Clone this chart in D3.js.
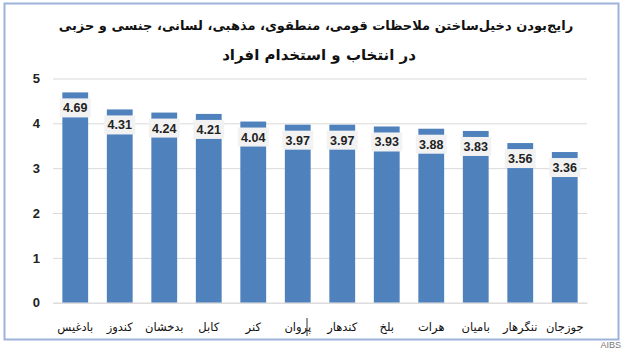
<!DOCTYPE html>
<html>
<head>
<meta charset="utf-8">
<script src="https://cdn.jsdelivr.net/npm/d3@7"></script>
<style>
  html, body { margin: 0; padding: 0; background: #fff; }
</style>
</head>
<body>
<div id="chart"></div>
<script>
// provinces, left to right as drawn
const provinces = ['بادغیس', 'کندوز', 'بدخشان', 'کابل', 'کنر', 'پروان', 'کندهار', 'بلخ', 'هرات', 'بامیان', 'ننگرهار', 'جوزجان']
const scores = [4.69, 4.31, 4.24, 4.21, 4.04, 3.97, 3.97, 3.93, 3.88, 3.83, 3.56, 3.36]
const yTicks = [0, 1, 2, 3, 4, 5]
const titleLines = ['رایج‌بودن دخیل‌ساختن ملاحظات قومی، منطقوی، مذهبی، لسانی، جنسی و حزبی', 'در انتخاب و استخدام افراد']

const data = provinces.map((p, i) => ({ name: p, value: scores[i] }))

const W = 624, H = 351
const margin = { top: 78.5, right: 37, bottom: 48.3, left: 53 }
const iw = W - margin.left - margin.right
const ih = H - margin.top - margin.bottom

const svg = d3.select('#chart').append('svg')
  .attr('width', W).attr('height', H)
  .style('display', 'block')

// outer frame
svg.append('rect')
  .attr('x', 4.5).attr('y', 3.5)
  .attr('width', 614).attr('height', 336)
  .attr('fill', '#fff')
  .attr('stroke', '#9db3dc').attr('stroke-width', 2)

// title: first line fitted to the width seen in the picture
svg.append('text')
  .attr('x', 316).attr('y', 30)
  .attr('text-anchor', 'middle')
  .attr('direction', 'rtl')
  .style('font-family', 'DejaVu Sans')
  .style('font-weight', 'bold')
  .style('font-size', '20px')
  .attr('fill', '#111')
  .text(titleLines[0])
  .each(function () {
    const w = this.getComputedTextLength()
    d3.select(this).style('font-size', (20 * 515 / w) + 'px')
  })

svg.append('text')
  .attr('x', 319).attr('y', 60)
  .attr('text-anchor', 'middle')
  .attr('direction', 'rtl')
  .style('font-family', 'DejaVu Sans')
  .style('font-weight', 'bold')
  .style('font-size', '15px')
  .attr('fill', '#111')
  .text(titleLines[1])

const g = svg.append('g').attr('transform', `translate(${margin.left},${margin.top})`)

const x = d3.scaleBand().domain(provinces).range([0, iw]).paddingInner(0.42).paddingOuter(0.21)
const y = d3.scaleLinear().domain([0, 5]).range([ih, 0])

// gridlines
g.append('g')
  .call(d3.axisLeft(y).tickValues(yTicks).tickSize(-iw).tickFormat(''))
  .call(a => a.select('.domain').remove())
  .call(a => a.selectAll('.tick line').attr('stroke', '#d9d9d9'))

// y labels
g.append('g')
  .call(d3.axisLeft(y).tickValues(yTicks).tickSize(0).tickPadding(13).tickFormat(d3.format('d')))
  .call(a => a.select('.domain').remove())
  .call(a => a.selectAll('.tick text')
    .style('font-family', 'Liberation Sans').style('font-weight', 'bold')
    .style('font-size', '13px').attr('fill', '#222'))

// bars
g.selectAll('.bar').data(data).enter().append('rect')
  .attr('class', 'bar')
  .attr('x', d => x(d.name))
  .attr('y', d => y(d.value))
  .attr('width', x.bandwidth())
  .attr('height', d => ih - y(d.value))
  .attr('fill', '#4f81bd')

// data labels with light boxes
const lab = g.selectAll('.lab').data(data).enter().append('g')
  .attr('class', 'lab')
  .attr('transform', d => `translate(${x(d.name) + x.bandwidth() / 2},${y(d.value) + 15.5})`)
lab.append('rect')
  .attr('x', -15.5).attr('y', -9.5).attr('width', 31).attr('height', 19)
  .attr('fill', '#f2f2f2')
lab.append('text')
  .attr('text-anchor', 'middle').attr('dy', '0.36em')
  .style('font-family', 'Liberation Sans').style('font-weight', 'bold')
  .style('font-size', '12.5px').attr('fill', '#222')
  .text(d => d.value.toFixed(2))

// x axis
const xa = g.append('g').attr('transform', `translate(0,${ih})`)
  .call(d3.axisBottom(x).tickSize(0).tickPadding(20))
xa.select('.domain').attr('stroke', '#d9d9d9')
xa.selectAll('.tick text')
  .attr('direction', 'rtl')
  .style('font-family', 'DejaVu Sans')
  .style('font-size', '11.5px').attr('fill', '#111')

// text cursor artefact over پروان
svg.append('line')
  .attr('x1', 307).attr('x2', 307).attr('y1', 318).attr('y2', 336)
  .attr('stroke', '#333').attr('stroke-width', 1)

// watermark
svg.append('text')
  .attr('x', 621).attr('y', 348).attr('text-anchor', 'end')
  .style('font-family', 'Liberation Sans').style('font-size', '9px')
  .attr('fill', '#777')
  .text('AIBS')
</script>
</body>
</html>
